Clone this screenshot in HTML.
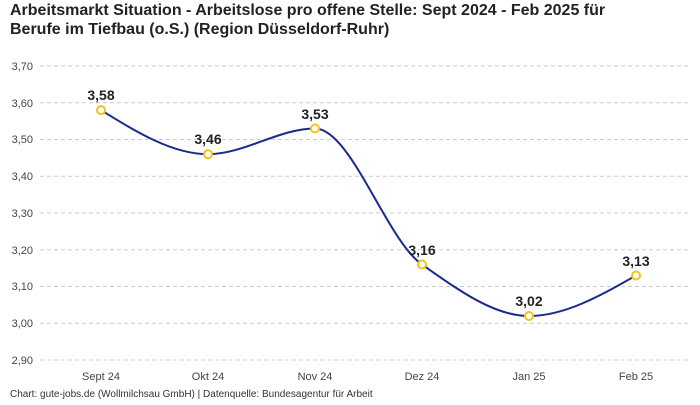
<!DOCTYPE html>
<html><head><meta charset="utf-8"><style>
body{margin:0;background:#fff;width:700px;height:400px;overflow:hidden;font-family:"Liberation Sans",sans-serif}
</style></head><body>
<svg width="700" height="400" xmlns="http://www.w3.org/2000/svg" font-family="Liberation Sans, sans-serif">
<text x="10" y="15" font-size="16" font-weight="bold" fill="#222">Arbeitsmarkt Situation - Arbeitslose pro offene Stelle: Sept 2024 - Feb 2025 für</text>
<text x="10" y="34" font-size="16" font-weight="bold" fill="#222">Berufe im Tiefbau (o.S.) (Region Düsseldorf-Ruhr)</text>
<g stroke="#ccc" stroke-dasharray="4,3" stroke-width="1">
<line x1="40" x2="690" y1="66" y2="66"/><line x1="40" x2="690" y1="102.75" y2="102.75"/>
<line x1="40" x2="690" y1="139.5" y2="139.5"/><line x1="40" x2="690" y1="176.25" y2="176.25"/>
<line x1="40" x2="690" y1="213" y2="213"/><line x1="40" x2="690" y1="249.75" y2="249.75"/>
<line x1="40" x2="690" y1="286.5" y2="286.5"/><line x1="40" x2="690" y1="323.25" y2="323.25"/>
<line x1="40" x2="690" y1="360" y2="360"/>
</g>
<g font-size="11" fill="#444" text-anchor="end">
<text x="33" y="70">3,70</text><text x="33" y="107">3,60</text><text x="33" y="143">3,50</text>
<text x="33" y="180">3,40</text><text x="33" y="217">3,30</text><text x="33" y="254">3,20</text>
<text x="33" y="290">3,10</text><text x="33" y="327">3,00</text><text x="33" y="364">2,90</text>
</g>
<g font-size="11" fill="#444" text-anchor="middle">
<text x="101" y="380">Sept 24</text><text x="208" y="380">Okt 24</text><text x="315" y="380">Nov 24</text>
<text x="422" y="380">Dez 24</text><text x="529" y="380">Jan 25</text><text x="636" y="380">Feb 25</text>
</g>
<path d="M101,110.1 C136.67,132.1 172.33,154.2 208,154.2 C243.67,154.2 279.33,128.5 315,128.5 C350.67,128.5 386.33,239.6 422,264.5 C457.67,289.4 493.33,316 529,316 C564.67,316 600.33,295.8 636,275.5" fill="none" stroke="#1a2a8c" stroke-width="2"/>
<g fill="#fff" stroke="#f2c318" stroke-width="2">
<circle cx="101" cy="110.1" r="4"/><circle cx="208" cy="154.2" r="4"/><circle cx="315" cy="128.5" r="4"/>
<circle cx="422" cy="264.5" r="4"/><circle cx="529" cy="316" r="4"/><circle cx="636" cy="275.5" r="4"/>
</g>
<g font-size="14" font-weight="bold" fill="#222" text-anchor="middle">
<text x="101" y="100">3,58</text><text x="208" y="144">3,46</text><text x="315" y="119">3,53</text>
<text x="422" y="255">3,16</text><text x="529" y="306">3,02</text><text x="636" y="266">3,13</text>
</g>
<text x="10" y="397" font-size="10" fill="#333">Chart: gute-jobs.de (Wollmilchsau GmbH) | Datenquelle: Bundesagentur für Arbeit</text>
</svg>
</body></html>
